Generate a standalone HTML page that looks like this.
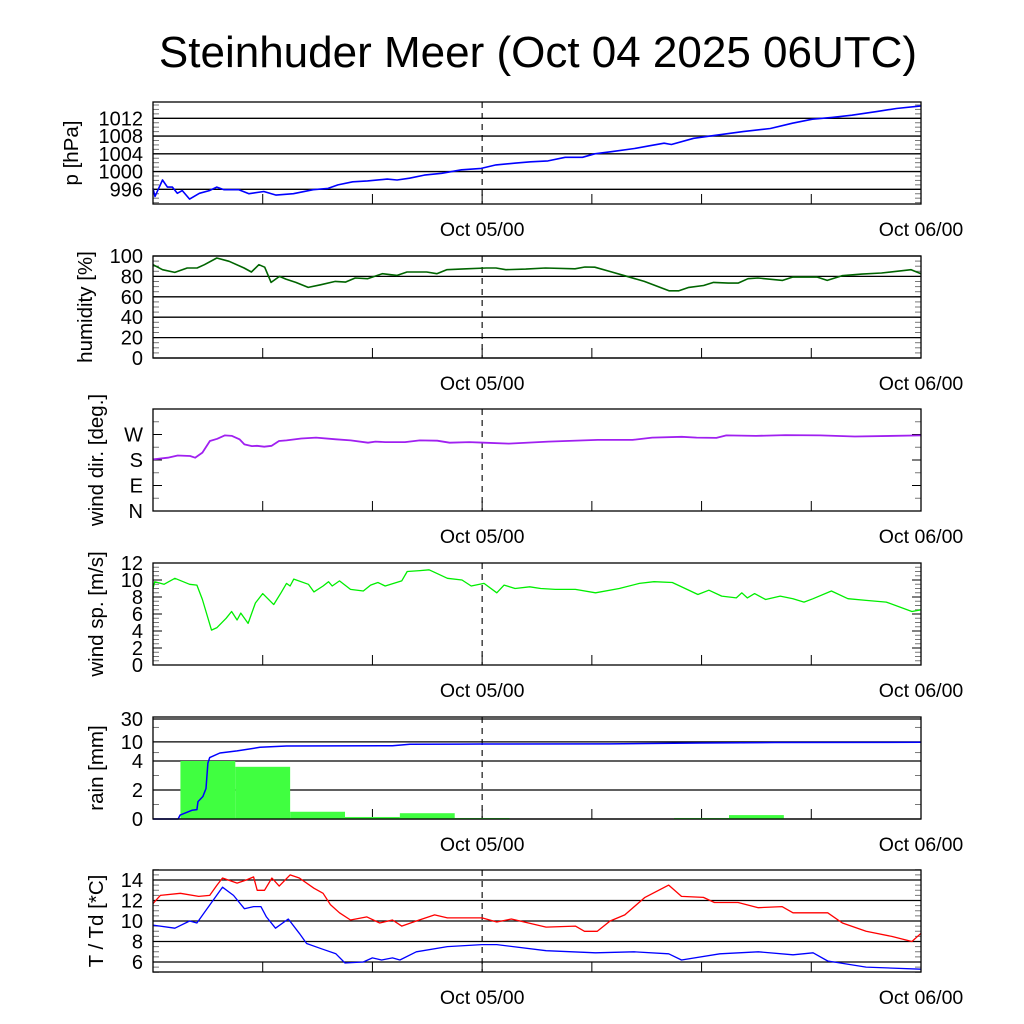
<!DOCTYPE html>
<html><head><meta charset="utf-8"><style>
html,body{margin:0;padding:0;background:#fff;}
svg{display:block;font-family:"Liberation Sans",sans-serif;}
</style></head><body>
<svg id="chart" width="1024" height="1024" viewBox="0 0 1024 1024" xmlns="http://www.w3.org/2000/svg">
<rect x="0" y="0" width="1024" height="1024" fill="#fff"/>
<text x="538" y="67" font-size="44" text-anchor="middle">Steinhuder Meer (Oct 04 2025 06UTC)</text>
</svg>
<script>
// ---- data (hours since Oct 04 06UTC) ----
const pT=[0,0.11,0.52,0.79,1.06,1.33,1.6,2.0,2.54,3.08,3.49,3.89,4.7,5.25,6.06,6.73,7.68,8.76,9.57,10.11,10.92,11.73,12.81,13.35,14.03,14.84,15.79,16.87,17.95,18.76,19.84,20.65,21.6,22.54,23.49,24.16,25.11,26.33,27.14,27.95,28.35,29.57,30.65,32.27,33.76,34.97,36.06,37.14,38.22,39.57,40.65,42];
const pV=[996.2,994.4,998.1,996.5,996.5,995.1,995.7,993.8,995.1,995.7,996.5,995.9,995.9,995.0,995.5,994.7,995.0,995.9,996.2,997.0,997.7,997.9,998.3,998.1,998.5,999.2,999.6,1000.4,1000.7,1001.5,1001.9,1002.2,1002.4,1003.2,1003.2,1004.0,1004.5,1005.2,1005.8,1006.4,1006.1,1007.5,1008.1,1009.0,1009.7,1010.9,1011.8,1012.2,1012.7,1013.5,1014.2,1014.8];
const hT=[0,0.52,1.19,1.87,2.41,2.81,3.49,4.16,4.98,5.38,5.79,6.11,6.46,6.92,7.27,7.81,8.49,9.16,9.97,10.52,11.06,11.73,12.54,13.35,13.89,14.97,15.52,16.06,17.14,18.22,18.76,19.3,20.38,21.46,23.08,23.62,24.16,24.97,25.79,26.87,28.22,28.76,29.3,30.11,30.65,31.46,32.0,32.54,33.08,34.43,34.97,36.33,36.87,37.68,38.76,39.84,41.46,42];
const hV=[91.5,86.6,83.9,88.2,88.2,91.5,98,94.8,88.2,84.3,91.5,89,74.1,80,77.4,74.1,69.2,71.8,75.1,74.4,78.4,77.7,82.6,81,84.3,84.3,82.6,86.6,87.5,88.2,88.2,86.6,87.2,88.2,87.5,89.2,89,84.9,80.7,75.1,65.9,65.9,69.2,71.1,74.1,73.4,73.4,77.7,78.4,76.1,79.3,79.3,76.1,80.7,82.3,83.3,86.6,82.6];
const dT=[0,0.81,1.35,2.03,2.3,2.7,3.11,3.51,3.92,4.32,4.73,5.0,5.41,5.68,6.08,6.49,6.89,7.3,8.11,8.92,10.0,10.81,11.76,12.16,12.7,13.78,14.59,15.54,16.22,17.3,18.11,19.46,21.62,24.32,26.22,27.3,28.92,29.73,30.81,31.35,32.97,34.59,36.49,38.38,42];
const dV=[182,188,196,194,188,206,247,255,267,265,253,235,229,230,227,230,247,249,256,259,253,249,241,245,243,243,249,248,241,243,241,238,245,251,251,259,262,259,258,267,265,268,267,263,267];
const sT=[0,0.1,0.6,1.2,2.0,2.4,2.7,3.2,3.5,4.0,4.3,4.6,4.8,5.2,5.6,6.0,6.6,7.0,7.3,7.5,7.7,8.5,8.8,9.3,9.6,9.8,10.2,10.8,11.5,11.9,12.3,12.7,13.6,13.9,14.6,15.1,15.5,16.1,16.9,17.4,18.1,18.8,19.2,19.8,20.6,21.2,22.0,23.1,24.2,25.5,26.6,27.4,28.4,29.0,29.8,30.4,31.1,31.9,32.2,32.5,32.9,33.5,34.3,35.0,35.6,36.1,37.1,38.0,39.0,40.1,41.5,42];
const sV=[9.0,9.8,9.5,10.2,9.5,9.4,7.7,4.1,4.4,5.5,6.3,5.3,6.1,4.9,7.3,8.4,7.1,8.5,9.6,9.3,10.1,9.5,8.6,9.3,9.8,9.3,9.9,8.9,8.7,9.4,9.7,9.3,9.9,11.0,11.1,11.2,10.8,10.2,10.0,9.3,9.6,8.5,9.4,9.0,9.2,9.0,8.9,8.9,8.5,9.0,9.6,9.8,9.7,9.1,8.3,8.8,8.1,7.9,8.5,7.9,8.4,7.7,8.1,7.8,7.4,7.8,8.7,7.8,7.6,7.4,6.3,6.5];
const barStart=[1.5,4.5,7.5,10.5,13.5,16.5,28.5,31.5];
const barRain=[4.0,3.6,0.5,0.14,0.4,0.07,0.07,0.27];
const cumT=[0,1.37,1.48,2.13,2.4,2.46,2.73,2.9,3.0,3.1,3.66,4.6,5.85,7.3,13.1,14.05,16.8,18,25,29.9,34,42];
const cumV=[0,0,0.27,0.6,0.65,1.2,1.55,2.1,3.86,4.7,5.87,6.5,7.7,8.2,8.34,8.9,9.0,9.05,9.1,9.5,9.7,9.8];
const tT=[0,0.4,1.5,2.5,3.1,3.5,3.8,4.6,5.1,5.5,5.7,6.1,6.5,6.9,7.5,8.0,8.8,9.3,9.7,10.2,10.8,11.7,12.4,13.1,13.6,14.4,15.4,16.1,18.0,18.8,19.6,21.5,23.1,23.6,24.3,25.0,25.8,26.9,28.2,28.9,30.1,30.7,32.0,33.1,34.4,35.0,36.9,37.7,39.0,40.4,41.5,42];
const tV=[11.7,12.5,12.7,12.4,12.5,13.5,14.2,13.7,14.0,14.3,13.0,13.0,14.2,13.4,14.5,14.2,13.2,12.7,11.6,10.8,10.1,10.4,9.8,10.1,9.5,10.0,10.6,10.3,10.3,9.9,10.2,9.4,9.5,9.0,9.0,10.0,10.6,12.3,13.5,12.4,12.3,11.8,11.8,11.3,11.4,10.8,10.8,9.8,9.0,8.5,8.0,8.8];
const tdT=[0,1.2,2.0,2.4,2.8,3.8,4.4,5.0,5.5,5.9,6.2,6.7,7.4,8.0,8.4,9.2,10.0,10.5,11.5,12.0,12.5,13.1,13.5,14.4,16.1,18.0,18.8,21.5,24.2,26.3,28.2,28.9,31.0,33.1,35.0,36.1,36.9,39.0,42];
const tdV=[9.6,9.3,10.0,9.8,10.8,13.3,12.5,11.2,11.4,11.4,10.4,9.3,10.2,8.8,7.8,7.3,6.8,5.9,6.0,6.4,6.2,6.4,6.2,7.0,7.5,7.7,7.7,7.1,6.9,7.0,6.8,6.2,6.8,7.0,6.7,6.9,6.1,5.5,5.3];
const xTickLabels=["Oct 05/00","Oct 06/00"];
const xTickHours=[18,42];

// ---- layout ----
const NS="http://www.w3.org/2000/svg";
const svg=document.getElementById('chart');
const X0=153,X1=921,HMAX=42;
const xs=h=>X0+(X1-X0)*h/HMAX;
function mk(tag,attrs,parent){const e=document.createElementNS(NS,tag);for(const k in attrs)e.setAttribute(k,attrs[k]);(parent||svg).appendChild(e);return e;}
function lin(v0,v1,y0,y1){return v=>y0+(v-v0)*(y1-y0)/(v1-v0);}

function panel(o){
  const g=mk('g',{});
  
  
  o.minor.forEach(v=>{const y=o.ys(v);
    const a=mk('line',{x1:X0,x2:X0+6,y1:y,y2:y,stroke:'#777','stroke-width':1},g);
    
    const b=mk('line',{x1:X1-6,x2:X1,y1:y,y2:y,stroke:'#777','stroke-width':1},g);
    });
  o.major.forEach((v,i)=>{const y=o.ys(v);
    if(o.grid){const l=mk('line',{x1:X0,x2:X1,y1:y,y2:y,stroke:'#000','stroke-width':1.3},g);
      }
    else{const a=mk('line',{x1:X0,x2:X0+9,y1:y,y2:y,stroke:'#000','stroke-width':1},g);
      
      const b=mk('line',{x1:X1-9,x2:X1,y1:y,y2:y,stroke:'#000','stroke-width':1},g);
      }
    const t=mk('text',{x:143,y:y+7,'font-size':20,'text-anchor':'end'},g);
    
    t.textContent=o.labels[i];});
  for(let h=6;h<HMAX;h+=6){const x=xs(h);
    const l=mk('line',{x1:x,x2:x,y1:o.y1-10,y2:o.y1,stroke:'#000','stroke-width':1},g);
    }
  const d=mk('line',{x1:xs(18),x2:xs(18),y1:o.y0,y2:o.y1,stroke:'#000','stroke-width':1.1,'stroke-dasharray':'6,5'},g);
  
  xTickHours.forEach((h,i)=>{const t=mk('text',{x:xs(h),y:o.y1+32,'font-size':19.5,'text-anchor':'middle'},g);
    
    t.textContent=xTickLabels[i];});
  const yc=(o.y0+o.y1)/2;
  const tt=mk('text',{x:0,y:0,'font-size':20.5,'text-anchor':'middle',transform:`translate(${o.tx},${yc}) rotate(-90)`},g);
  
  tt.textContent=o.title;
  o.draw&&o.draw(g,o.ys);
  const f=mk('rect',{x:X0,y:o.y0,width:X1-X0,height:o.y1-o.y0,fill:'none',stroke:'#000','stroke-width':1.3},g);
  
  return g;
}
function line(g,ts,vs,ys,color,name,w){
  const pts=ts.map((t,i)=>xs(t).toFixed(1)+','+ys(vs[i]).toFixed(1)).join(' ');
  const p=mk('polyline',{points:pts,fill:'none',stroke:color,'stroke-width':w||1.4,'stroke-linejoin':'round'},g);
  
}
function range(a,b,s){const r=[];for(let v=a;v<=b+1e-9;v+=s)r.push(+v.toFixed(3));return r;}

{const ys=lin(996,1012,189.3,118.3);
panel({name:'pressure',y0:102,y1:204,ys,major:[996,1000,1004,1008,1012],labels:['996','1000','1004','1008','1012'],
 minor:range(993,1015,1),grid:true,title:'p [hPa]',tx:78,
 draw:(g,ys)=>line(g,pT,pV,ys,'#0000ff','pressure-line',1.6)});}
{const ys=lin(0,100,358,256);
panel({name:'humidity',y0:256,y1:358,ys,major:[0,20,40,60,80,100],labels:['0','20','40','60','80','100'],
 minor:range(0,100,5),grid:true,title:'humidity [%]',tx:92,
 draw:(g,ys)=>line(g,hT,hV,ys,'#006400','humidity-line',1.6)});}
{const ys=lin(0,360,511,409);
panel({name:'wind-direction',y0:409,y1:511,ys,major:[0,90,180,270],labels:['N','E','S','W'],
 minor:range(45,315,90),grid:false,title:'wind dir. [deg.]',tx:103,
 draw:(g,ys)=>line(g,dT,dV,ys,'#a020f0','wind-direction-line',1.8)});}
{const ys=lin(0,12,665,563);
panel({name:'wind-speed',y0:563,y1:665,ys,major:[0,2,4,6,8,10,12],labels:['0','2','4','6','8','10','12'],
 minor:range(0,12,0.5),grid:false,title:'wind sp. [m/s]',tx:103,
 draw:(g,ys)=>line(g,sT,sV,ys,'#00ee00','wind-speed-line',1.3)});}
{const ys=v=>v<=4?819-v*14.5:761-48*Math.log10(v/4);
panel({name:'rain',y0:717,y1:819,ys,major:[0,2,4,10,30],labels:['0','2','4','10','30'],
 minor:[1,3,6,20],grid:true,title:'rain [mm]',tx:103,
 draw:(g,ys)=>{
  barStart.forEach((s,i)=>{const y=ys(barRain[i]);
    const r=mk('rect',{x:xs(s),y:y,width:xs(s+3)-xs(s),height:819-y,fill:'#40ff40'},g);
    });
  line(g,cumT,cumV,ys,'#0000ff','cumulative-rain-line',1.5);}});}
{const ys=lin(6,14,962,880);
panel({name:'temperature',y0:870,y1:972,ys,major:[6,8,10,12,14],labels:['6','8','10','12','14'],
 minor:range(5,15,0.5),grid:true,title:'T / Td [*C]',tx:103,
 draw:(g,ys)=>{line(g,tT,tV,ys,'#ff0000','temperature-line',1.3);line(g,tdT,tdV,ys,'#0000ff','dewpoint-line',1.3);}});}
</script>
</body></html>
